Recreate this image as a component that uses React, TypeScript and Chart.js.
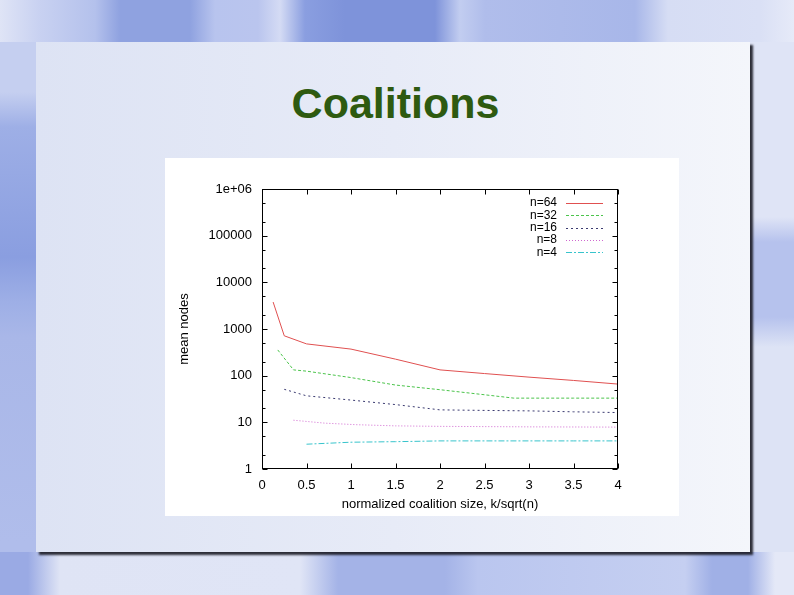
import React, { useEffect, useRef } from "react";
import { Chart, registerables } from "chart.js";

Chart.register(...registerables);

// ---- data ----
const seriesLabels = ["n=64", "n=32", "n=16", "n=8", "n=4"];

const n64X = [0.125, 0.25, 0.5, 1, 1.5, 2, 2.5, 3, 3.5, 4];
const n64Y = [3780, 715, 480, 371, 226, 133, 111, 93, 79, 66];

const n32X = [0.177, 0.354, 0.5, 1, 1.5, 2, 2.5, 2.83, 3.5, 4];
const n32Y = [356, 133, 125, 91, 63, 50, 39, 33, 33, 33];

const n16X = [0.25, 0.5, 1, 1.5, 2, 2.5, 3, 3.5, 4];
const n16Y = [51, 37, 30, 24, 18.5, 18, 17.6, 16.8, 16.2];

const n8X = [0.354, 0.707, 1.06, 1.5, 2, 3, 4];
const n8Y = [11.1, 9.6, 8.9, 8.4, 8.2, 8.0, 7.9];

const n4X = [0.5, 1, 1.5, 2, 2.5, 3, 3.5, 4];
const n4Y = [3.4, 3.75, 3.85, 4.0, 4.0, 4.0, 4.0, 4.0];

const yTickValues = [1, 10, 100, 1000, 10000, 100000, 1000000];
const yTickLabels = ["1", "10", "100", "1000", "10000", "100000", "1e+06"];
const yMinorFactors = [2, 5];
const xTickValues = [0, 0.5, 1, 1.5, 2, 2.5, 3, 3.5, 4];
const xTickLabels = ["0", "0.5", "1", "1.5", "2", "2.5", "3", "3.5", "4"];

const titleText = "Coalitions";
const xTitle = "normalized coalition size, k/sqrt(n)";
const yTitle = "mean nodes";

const seriesColors = ["#e05050", "#4cc44c", "#3a3a70", "#d068d0", "#38c4cc"];
const seriesDashes: number[][] = [[], [3, 2], [2, 3], [1, 2], [6, 2, 2, 2]];

const FONT = "'Liberation Sans', Arial, Helvetica, sans-serif";

const toPts = (xs: number[], ys: number[]) => xs.map((x, i) => ({ x, y: ys[i] }));

const framePlugin = {
  id: "gnuplotFrame",
  afterDatasetsDraw(chart: any) {
    const { ctx, chartArea: a, scales } = chart;
    const xs = scales.x;
    const ys = scales.y;
    ctx.save();
    ctx.strokeStyle = "#000";
    ctx.lineWidth = 1;
    const L = Math.round(a.left) + 0.5;
    const R = Math.round(a.right) - 0.5;
    const T = Math.round(a.top) + 0.5;
    const B = Math.round(a.bottom) - 0.5;
    ctx.strokeRect(L, T, R - L, B - T);
    ctx.beginPath();
    yTickValues.forEach((v, i) => {
      const y = Math.round(ys.getPixelForValue(v)) + 0.5;
      ctx.moveTo(L, y); ctx.lineTo(L + 5, y);
      ctx.moveTo(R, y); ctx.lineTo(R - 5, y);
      if (i < yTickValues.length - 1) {
        yMinorFactors.forEach((f) => {
          const ym = Math.round(ys.getPixelForValue(v * f)) + 0.5;
          ctx.moveTo(L, ym); ctx.lineTo(L + 3, ym);
          ctx.moveTo(R, ym); ctx.lineTo(R - 3, ym);
        });
      }
    });
    xTickValues.forEach((v) => {
      const x = Math.round(xs.getPixelForValue(v)) + 0.5;
      ctx.moveTo(x, B); ctx.lineTo(x, B - 5);
      ctx.moveTo(x, T); ctx.lineTo(x, T + 5);
    });
    ctx.stroke();

    // legend (gnuplot style: right-aligned text, sample line to the right)
    ctx.font = `12px ${FONT}`;
    ctx.textAlign = "right";
    ctx.textBaseline = "middle";
    chart.data.datasets.forEach((ds: any, i: number) => {
      const y = a.top + 14 + i * 12.3;
      ctx.fillStyle = "#000";
      ctx.fillText(ds.label, a.left + 295, y);
      ctx.beginPath();
      ctx.strokeStyle = ds.borderColor;
      ctx.setLineDash(ds.borderDash || []);
      ctx.moveTo(a.left + 304, Math.round(y) + 0.5);
      ctx.lineTo(a.left + 341, Math.round(y) + 0.5);
      ctx.stroke();
      ctx.setLineDash([]);
    });
    ctx.restore();
  },
};

function ChartBox() {
  const ref = useRef<HTMLCanvasElement | null>(null);
  useEffect(() => {
    if (!ref.current) return;
    const xsAll = [n64X, n32X, n16X, n8X, n4X];
    const ysAll = [n64Y, n32Y, n16Y, n8Y, n4Y];
    const chart = new Chart(ref.current, {
      type: "line",
      data: {
        datasets: seriesLabels.map((label, i) => ({
          label,
          data: toPts(xsAll[i], ysAll[i]),
          borderColor: seriesColors[i],
          borderWidth: 1,
          borderDash: seriesDashes[i],
          pointRadius: 0,
          fill: false,
          tension: 0,
        })),
      },
      options: {
        animation: false,
        responsive: true,
        maintainAspectRatio: false,
        layout: { padding: { left: 0, top: 31, right: 61, bottom: 0 } },
        plugins: { legend: { display: false }, tooltip: { enabled: false } },
        scales: {
          x: {
            type: "linear",
            min: 0,
            max: 4,
            afterBuildTicks: (s: any) => {
              s.ticks = xTickValues.map((v) => ({ value: v }));
            },
            afterFit: (s: any) => {
              s.height = 47;
            },
            ticks: {
              autoSkip: false,
              maxRotation: 0,
              padding: 9,
              color: "#000",
              font: { family: FONT, size: 13 },
              callback: (_v: any, i: number) => xTickLabels[i],
            },
            grid: { display: false, drawTicks: false },
            border: { display: false },
            title: {
              display: true,
              text: xTitle,
              color: "#000",
              font: { family: FONT, size: 13 },
              padding: { top: 0, bottom: 4 },
            },
          },
          y: {
            type: "logarithmic",
            min: 1,
            max: 1000000,
            afterBuildTicks: (s: any) => {
              s.ticks = yTickValues.map((v) => ({ value: v }));
            },
            afterFit: (s: any) => {
              s.width = 97;
            },
            ticks: {
              autoSkip: false,
              padding: 10,
              color: "#000",
              font: { family: FONT, size: 13 },
              callback: (_v: any, i: number) => yTickLabels[i],
            },
            grid: { display: false, drawTicks: false },
            border: { display: false },
            title: {
              display: true,
              text: yTitle,
              color: "#000",
              font: { family: FONT, size: 13 },
              padding: { top: 12, bottom: 0 },
            },
          },
        },
      },
      plugins: [framePlugin],
    } as any);
    return () => chart.destroy();
  }, []);
  return (
    <div
      style={{
        position: "absolute",
        left: 165,
        top: 158,
        width: 514,
        height: 358,
        background: "#ffffff",
      }}
    >
      <canvas ref={ref} />
    </div>
  );
}

const abs = (l: number, t: number, w: number, h: number, bg: string): React.CSSProperties => ({
  position: "absolute",
  left: l,
  top: t,
  width: w,
  height: h,
  background: bg,
});

export default function App() {
  return (
    <div
      style={{
        position: "fixed",
        left: 0,
        top: 0,
        width: 794,
        height: 595,
        overflow: "hidden",
        background: "#b6c2ed",
      }}
    >
      {/* top band */}
      <div
        style={abs(
          0, 0, 794, 42,
          "linear-gradient(90deg, #dfe4f6 0px, #c8d1f1 40px, #b4c1ec 95px, #8fa2e0 120px, #8fa2e0 190px, #b8c4ee 215px, #bac5ee 258px, #d4dbf4 280px, #8a9ee0 305px, #7e93da 345px, #7e93da 435px, #c2cdf0 460px, #b0bdeb 485px, #a8b7e9 635px, #d6ddf4 668px, #dae0f5 760px, #e6eaf8 794px)"
        )}
      />
      {/* bottom band */}
      <div
        style={abs(
          0, 552, 794, 43,
          "linear-gradient(90deg, #9aaae4 0px, #9aaae4 28px, #dfe4f5 60px, #e0e5f6 300px, #a4b3e7 338px, #a4b3e7 445px, #bac6ef 478px, #c5cff1 685px, #a0b0e6 712px, #a0b0e6 748px, #e4e8f7 775px)"
        )}
      />
      {/* left band */}
      <div
        style={abs(
          0, 42, 36, 510,
          "linear-gradient(180deg, #c5cff0 0px, #c5cff0 50px, #9eafe6 85px, #8a9ee0 215px, #9eafe6 260px, #a9b7e8 295px, #b0bdeb 500px)"
        )}
      />
      {/* right band */}
      <div
        style={abs(
          750, 42, 44, 510,
          "linear-gradient(180deg, #dfe4f6 0px, #dfe4f6 175px, #b6c2ed 200px, #b6c2ed 275px, #dde3f5 305px)"
        )}
      />
      {/* slide panel */}
      <div
        style={{
          ...abs(36, 42, 714, 510, "linear-gradient(90deg, #dde3f4 0%, #e7ebf7 50%, #f4f6fb 100%)"),
          boxShadow: "3px 3px 2px rgba(25,25,35,0.9)",
        }}
      />
      <div
        style={{
          position: "absolute",
          left: 0,
          top: 82,
          width: 791,
          textAlign: "center",
          fontFamily: FONT,
          fontWeight: "bold",
          fontSize: 43,
          lineHeight: "42px",
          color: "#2e5a10",
        }}
      >
        {titleText}
      </div>
      <ChartBox />
    </div>
  );
}
